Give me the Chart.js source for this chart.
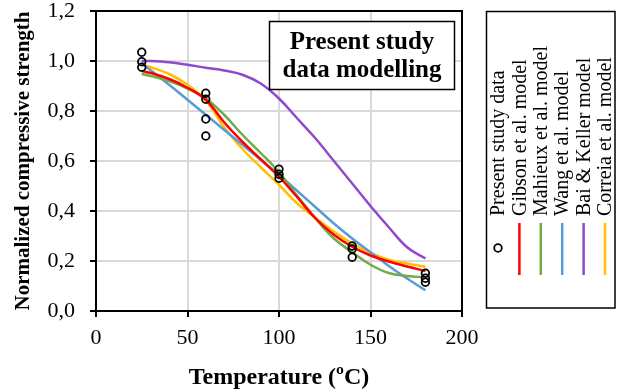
<!DOCTYPE html>
<html>
<head>
<meta charset="utf-8">
<script src="https://cdn.jsdelivr.net/npm/chart.js@4.4.1/dist/chart.umd.min.js"></script>
<style>
  html, body { margin: 0; padding: 0; background: #fff; }
  #wrap { width: 619px; height: 392px; }
</style>
</head>
<body>
<div id="wrap"><canvas id="chart" width="619" height="392"></canvas></div>
<script>
// test results (temperature in ºC, normalized strength)
const testTemps = [25, 25, 25, 60, 60, 60, 60, 100, 100, 100, 140, 140, 140, 180, 180, 180];
const testStrength = [1.035, 0.997, 0.975, 0.871, 0.847, 0.768, 0.70, 0.567, 0.547, 0.531, 0.26, 0.248, 0.215, 0.151, 0.131, 0.115];

// model curves, all sampled at the same temperatures
const modelTemps = [25, 30, 40, 50, 60, 70, 80, 90, 100, 110, 120, 130, 140, 150, 160, 170, 180];
const gibson   = [0.96, 0.952, 0.928, 0.893, 0.845, 0.755, 0.677, 0.607, 0.537, 0.455, 0.37, 0.305, 0.257, 0.222, 0.198, 0.178, 0.16];
const mahieux  = [0.948, 0.94, 0.92, 0.89, 0.85, 0.785, 0.705, 0.632, 0.555, 0.46, 0.37, 0.29, 0.235, 0.185, 0.152, 0.14, 0.135];
const wang     = [0.99, 0.962, 0.905, 0.845, 0.785, 0.725, 0.665, 0.605, 0.545, 0.48, 0.415, 0.35, 0.29, 0.235, 0.18, 0.13, 0.083];
const baiKeller = [1.0, 1.0, 0.995, 0.985, 0.973, 0.962, 0.945, 0.91, 0.85, 0.77, 0.69, 0.60, 0.51, 0.42, 0.335, 0.255, 0.21];
const correia  = [0.985, 0.975, 0.948, 0.905, 0.842, 0.735, 0.648, 0.575, 0.505, 0.43, 0.372, 0.318, 0.27, 0.232, 0.205, 0.19, 0.177];

const xTicks = [0, 50, 100, 150, 200];
const yTicks = [0, 0.2, 0.4, 0.6, 0.8, 1.0, 1.2];

const SERIF = '"Liberation Serif", "Times New Roman", serif';

function toPoints(xs, ys) {
    return xs.map((x, i) => ({ x: x, y: ys[i] }));
}

function modelSet(label, values, color) {
    return {
        label: label,
        data: toPoints(modelTemps, values),
        showLine: true,
        borderColor: color,
        backgroundColor: color,
        borderWidth: 2.5,
        pointRadius: 0,
        tension: 0.4
    };
}

// frame around the plot area plus the boxed note
const framePlugin = {
    id: 'frame',
    beforeDatasetsDraw(chart) {
        const { ctx, chartArea: a } = chart;
        ctx.save();
        ctx.strokeStyle = '#000';
        ctx.lineWidth = 2;
        ctx.strokeRect(a.left, a.top, a.right - a.left, a.bottom - a.top);
        ctx.restore();
    },
    afterDatasetsDraw(chart) {
        const ctx = chart.ctx;
        ctx.save();
        ctx.fillStyle = '#fff';
        ctx.fillRect(269.5, 21.5, 185, 68);
        ctx.strokeStyle = '#000';
        ctx.lineWidth = 1.5;
        ctx.strokeRect(269.5, 21.5, 185, 68);
        ctx.fillStyle = '#000';
        ctx.font = 'bold 25px ' + SERIF;
        ctx.textAlign = 'center';
        ctx.textBaseline = 'middle';
        ctx.fillText('Present study', 362, 43);
        ctx.fillText('data modelling', 362, 71);
        ctx.restore();
    }
};

// vertical legend on the right, labels read bottom to top
const sideLegend = {
    id: 'sideLegend',
    afterDraw(chart) {
        const ctx = chart.ctx;
        ctx.save();
        ctx.strokeStyle = '#000';
        ctx.lineWidth = 1.5;
        ctx.strokeRect(486.5, 11.5, 128.5, 296.5);
        chart.data.datasets.forEach((ds, i) => {
            const x = 498 + i * 21.4;
            if (ds.showLine) {
                ctx.strokeStyle = ds.borderColor;
                ctx.lineWidth = 2.5;
                ctx.beginPath();
                ctx.moveTo(x, 223);
                ctx.lineTo(x, 275);
                ctx.stroke();
            } else {
                ctx.strokeStyle = '#000';
                ctx.lineWidth = 1.8;
                ctx.beginPath();
                ctx.arc(x, 248, 3.8, 0, Math.PI * 2);
                ctx.stroke();
            }
            ctx.save();
            ctx.translate(x, 216);
            ctx.rotate(-Math.PI / 2);
            ctx.fillStyle = '#000';
            ctx.font = '20px ' + SERIF;
            ctx.textAlign = 'left';
            ctx.textBaseline = 'middle';
            ctx.fillText(ds.label, 0, 1);
            ctx.restore();
        });
        ctx.restore();
    }
};

new Chart(document.getElementById('chart'), {
    type: 'scatter',
    data: {
        datasets: [
            {
                label: 'Present study data',
                data: toPoints(testTemps, testStrength),
                showLine: false,
                pointStyle: 'circle',
                pointRadius: 3.8,
                borderWidth: 1.8,
                borderColor: '#000',
                backgroundColor: 'rgba(0,0,0,0)'
            },
            modelSet('Gibson et al. model', gibson, '#ff0000'),
            modelSet('Mahieux et al. model', mahieux, '#70ad47'),
            modelSet('Wang et al. model', wang, '#5b9bd5'),
            modelSet('Bai & Keller model', baiKeller, '#9148cd'),
            modelSet('Correia et al. model', correia, '#ffc000')
        ]
    },
    options: {
        responsive: false,
        animation: false,
        layout: { padding: { left: 7, right: 157, top: 11, bottom: 0 } },
        plugins: {
            legend: { display: false },
            tooltip: { enabled: false }
        },
        scales: {
            x: {
                type: 'linear',
                min: 0,
                max: 200,
                afterBuildTicks: (scale) => { scale.ticks = xTicks.map(v => ({ value: v })); },
                afterFit: (scale) => {
                    scale.height = 81;
                    scale.paddingLeft = 0;
                    scale.paddingRight = 0;
                },
                grid: { color: '#d9d9d9', lineWidth: 2, tickColor: '#000', tickLength: 6, tickWidth: 2 },
                border: { color: '#000', width: 2 },
                ticks: {
                    color: '#000',
                    padding: 8,
                    maxRotation: 0,
                    font: { family: SERIF, size: 22 }
                },
                title: {
                    display: true,
                    text: 'Temperature (ºC)',
                    color: '#000',
                    padding: { top: 0, bottom: 0 },
                    font: { family: SERIF, size: 24, weight: 'bold' }
                }
            },
            y: {
                min: 0,
                max: 1.2,
                afterBuildTicks: (scale) => { scale.ticks = yTicks.map(v => ({ value: v })); },
                afterFit: (scale) => {
                    scale.width = 89;
                    scale.paddingTop = 0;
                    scale.paddingBottom = 0;
                },
                grid: { color: '#d9d9d9', lineWidth: 2, tickColor: '#000', tickLength: 6, tickWidth: 2 },
                border: { color: '#000', width: 2 },
                ticks: {
                    color: '#000',
                    padding: 15,
                    font: { family: SERIF, size: 22 },
                    callback: (v) => v.toFixed(1).replace('.', ',')
                },
                title: {
                    display: true,
                    text: 'Normalized compressive strength',
                    color: '#000',
                    padding: { top: 4, bottom: 0 },
                    font: { family: SERIF, size: 21, weight: 'bold' }
                }
            }
        }
    },
    plugins: [framePlugin, sideLegend]
});
</script>
</body>
</html>
